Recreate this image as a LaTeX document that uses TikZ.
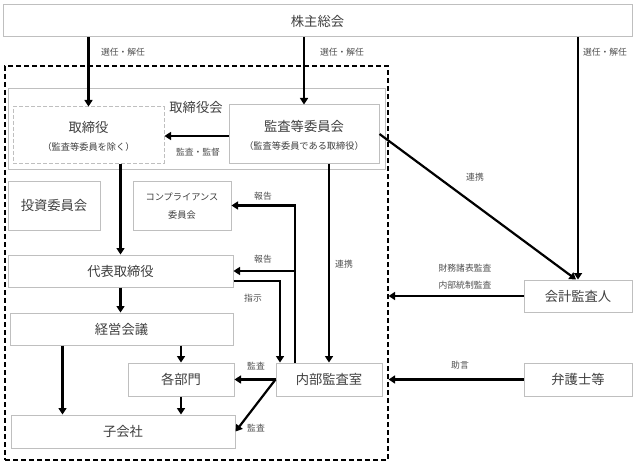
\documentclass[tikz,border=0pt]{standalone}
\usepackage{fontspec}
\setmainfont{Noto Sans CJK JP}
\usetikzlibrary{arrows.meta}
\definecolor{bgray}{HTML}{BFBFBF}
\definecolor{tgray}{HTML}{3F3F3F}
\definecolor{lgray}{HTML}{505050}
\begin{document}
\begin{tikzpicture}[x=1pt,y=-1pt,
  bx/.style={draw=bgray,line width=1pt,inner sep=0pt,text=tgray,font=\fontsize{13.3}{16}\selectfont},
  txt/.style={inner sep=0pt,text=tgray,font=\fontsize{13.3}{16}\selectfont},
  stxt/.style={inner sep=0pt,text=tgray,font=\fontsize{9.2}{11}\selectfont},
  lab/.style={inner sep=0pt,text=lgray,font=\fontsize{8.8}{11}\selectfont},
  arr/.style={line width=2.2pt,-{Triangle[length=6.5pt,width=8pt]}}]
\useasboundingbox (0,0) rectangle (636,465);
\fill[white] (0,0) rectangle (636,465);
% group frames
\node[draw=black,line width=1.2pt,dash pattern=on 5pt off 3pt,minimum width=383pt,minimum height=394pt,inner sep=0] (outer) at (196.5,263) {};
\node[bx,minimum width=377pt,minimum height=80pt] (board) at (196.5,129) {};
\node[txt] (boardlab) at (196,107) {取締役会};
% boxes
\node[bx,minimum width=629pt,minimum height=32pt] (sh) at (317.5,21) {株主総会};
\node[draw=bgray,line width=1pt,dash pattern=on 4pt off 2pt,inner sep=0,minimum width=151pt,minimum height=56pt] (dir) at (88.5,135) {};
\node[txt] (dirt) at (88.5,127) {取締役};
\node[stxt] (dirs) at (88.5,147) {（監査等委員を除く）};
\node[bx,minimum width=150pt,minimum height=58pt] (acc) at (304,134) {};
\node[txt] (acct) at (304,126) {監査等委員会};
\node[stxt] (accs) at (304,146) {（監査等委員である取締役）};
\node[bx,minimum width=92pt,minimum height=49pt] (inv) at (54,205.5) {投資委員会};
\node[bx,minimum width=98pt,minimum height=49pt] (comp) at (182,205.5) {};
\node[stxt] (compa) at (182,197) {コンプライアンス};
\node[stxt] (compb) at (182,215) {委員会};
\node[bx,minimum width=225pt,minimum height=32pt] (rep) at (120.5,271) {代表取締役};
\node[bx,minimum width=223pt,minimum height=32pt] (mgmt) at (121.5,329) {経営会議};
\node[bx,minimum width=106pt,minimum height=33pt] (dept) at (181,379.5) {各部門};
\node[bx,minimum width=224pt,minimum height=33pt] (sub) at (123,431.5) {子会社};
\node[bx,minimum width=106pt,minimum height=33pt] (ia) at (329,379.5) {内部監査室};
\node[bx,minimum width=108pt,minimum height=32pt] (aud) at (578,296) {会計監査人};
\node[bx,minimum width=108pt,minimum height=33pt] (law) at (578,379.5) {弁護士等};
% arrows
\draw[arr] (sh.south -| dir.north) -- (dir.north);
\draw[arr] (sh.south -| acc.north) -- (acc.north);
\draw[arr] (sh.south -| aud.north) -- (aud.north);
\draw[arr] ([yshift=-2pt]acc.west) -- ([yshift=-2pt]acc.west -| dir.east);
\draw[arr] (acc.south -| ia.north) -- (ia.north);
\draw[arr] (acc.east) -- ([xshift=-2pt]aud.north);
\draw[arr] (dir.south -| rep.north) -- (rep.north);
\draw[arr] ([xshift=-34pt]ia.north) |- (comp.east);
\draw[arr] ([xshift=-34pt]ia.north |- rep.east) -- (rep.east);
\draw[arr] ([yshift=-10pt]rep.east) -| ([xshift=-49pt]ia.north);
\draw[arr] (rep.south) -- (rep.south |- mgmt.north);
\draw[arr] (mgmt.south -| dept.north) -- (dept.north);
\draw[arr] ([xshift=-59pt]mgmt.south) -- ([xshift=-59pt]mgmt.south |- sub.north);
\draw[arr] (dept.south) -- (dept.south |- sub.north);
\draw[arr] (ia.west) -- (dept.east);
\draw[arr] (ia.west) -- (sub.east);
\draw[arr] (aud.west) -- (aud.west -| outer.east);
\draw[arr] (law.west) -- (law.west -| outer.east);
% labels
\node[lab] (l1) at (123,52) {選任・解任};
\node[lab] (l2) at (342,52) {選任・解任};
\node[lab] (l3) at (605,52) {選任・解任};
\node[lab] (l4) at (198,152) {監査・監督};
\node[lab] (l5) at (263,196) {報告};
\node[lab] (l6) at (263,259) {報告};
\node[lab] (l7) at (253,298) {指示};
\node[lab] (l8) at (344,264) {連携};
\node[lab] (l9) at (475,177) {連携};
\node[lab] (l10) at (465,268) {財務諸表監査};
\node[lab] (l11) at (465,285) {内部統制監査};
\node[lab] (l12) at (460,365) {助言};
\node[lab] (l13) at (256,366) {監査};
\node[lab] (l14) at (256,428) {監査};
\end{tikzpicture}
\end{document}
